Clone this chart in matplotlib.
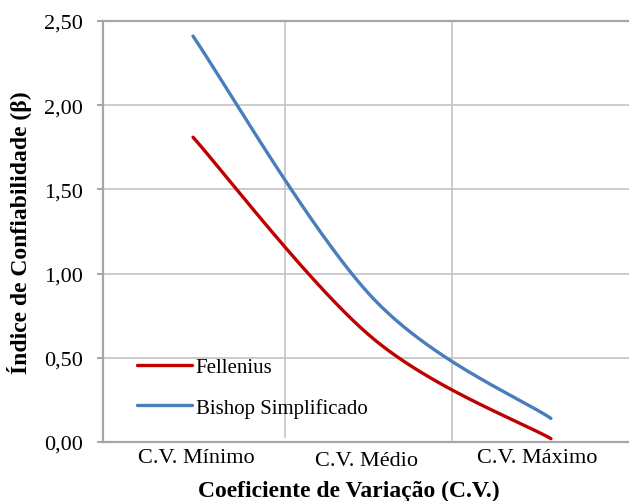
import numpy as np
import matplotlib.pyplot as plt
from matplotlib.transforms import ScaledTranslation

plt.rcParams['font.family'] = ['Liberation Serif', 'DejaVu Serif']

# Índice de confiabilidade por coeficiente de variação
categorias = ['C.V. Mínimo', 'C.V. Médio', 'C.V. Máximo']
x_pontos = [0, 1, 2]
fellenius = [1.81, 0.62, 0.02]
bishop = [2.41, 0.86, 0.14]
y_ticks = [0.0, 0.5, 1.0, 1.5, 2.0, 2.5]


def suavizar(x, y, n=80):
    # curva suavizada por segmentos de Bezier (estilo "linha suavizada" do Excel)
    p = np.column_stack([x, y]).astype(float)
    ext = np.vstack([p[0], p, p[-1]])
    t = np.linspace(0, 1, n)[:, None]
    partes = []
    for i in range(len(p) - 1):
        p0, p3 = ext[i + 1], ext[i + 2]
        c1 = p0 + (ext[i + 2] - ext[i]) / 6
        c2 = p3 - (ext[i + 3] - ext[i + 1]) / 6
        seg = ((1 - t) ** 3) * p0 + 3 * ((1 - t) ** 2) * t * c1 \
            + 3 * (1 - t) * t ** 2 * c2 + t ** 3 * p3
        partes.append(seg if i == 0 else seg[1:])
    c = np.vstack(partes)
    return c[:, 0], c[:, 1]


fig = plt.figure(figsize=(6.29, 5.02), dpi=100)
ax = fig.add_axes([103 / 629, 1 - 443 / 502, 1 - 103 / 629, 421 / 502])

cinza = '#A6A6A6'
ax.set_xlim(-0.503, 2.436)
ax.set_ylim(0, 2.5)

# linhas de grade
for v in y_ticks[1:-1]:
    ax.axhline(v, color='#C4C4C4', lw=1.2, zorder=1)
ax.axvline(0.514, ymin=0.012, color='#C4C4C4', lw=1.2, zorder=1)
ax.axvline(1.447, ymin=0.005, color='#C4C4C4', lw=1.2, zorder=1)

xs, ys = suavizar(x_pontos, fellenius)
ax.plot(xs, ys, color='#C00000', lw=2.4, solid_capstyle='round', label='Fellenius', zorder=3)
xs, ys = suavizar(x_pontos, bishop)
ax.plot(xs, ys, color='#4A7EBB', lw=2.4, solid_capstyle='round', label='Bishop Simplificado', zorder=3)

for lado in ['left', 'bottom', 'top']:
    ax.spines[lado].set_color(cinza)
    ax.spines[lado].set_linewidth(1.6)
ax.spines['right'].set_visible(False)

ax.set_yticks(y_ticks)
ax.set_yticklabels([f'{v:.2f}'.replace('.', ',') for v in y_ticks], fontsize=16)
ax.tick_params(axis='y', length=4.5, width=1.5, color=cinza, pad=10)

ax.set_xticks([0.017, 0.972, 1.922])
ax.set_xticklabels(categorias, fontsize=16)
ax.tick_params(axis='x', length=0, pad=4)
rot = ax.get_xticklabels()[1]
rot.set_transform(rot.get_transform() + ScaledTranslation(0, -3 / 100, fig.dpi_scale_trans))

fig.text(20 / 629, 1 - 232.5 / 502, 'Índice de Confiabilidade (β)', rotation=90,
         ha='center', va='center', fontsize=17, fontweight='bold')
fig.text(349 / 629, 1 - 497 / 502, 'Coeficiente de Variação (C.V.)',
         ha='center', va='baseline', fontsize=17, fontweight='bold')

ax.legend(loc='center left', bbox_to_anchor=(127 / 629, 1 - 388.5 / 502),
          bbox_transform=fig.transFigure, frameon=False, borderpad=0,
          handlelength=2.6, handletextpad=0.2, labelspacing=1.0, fontsize=15)

fig.savefig('out.png', dpi=100)
